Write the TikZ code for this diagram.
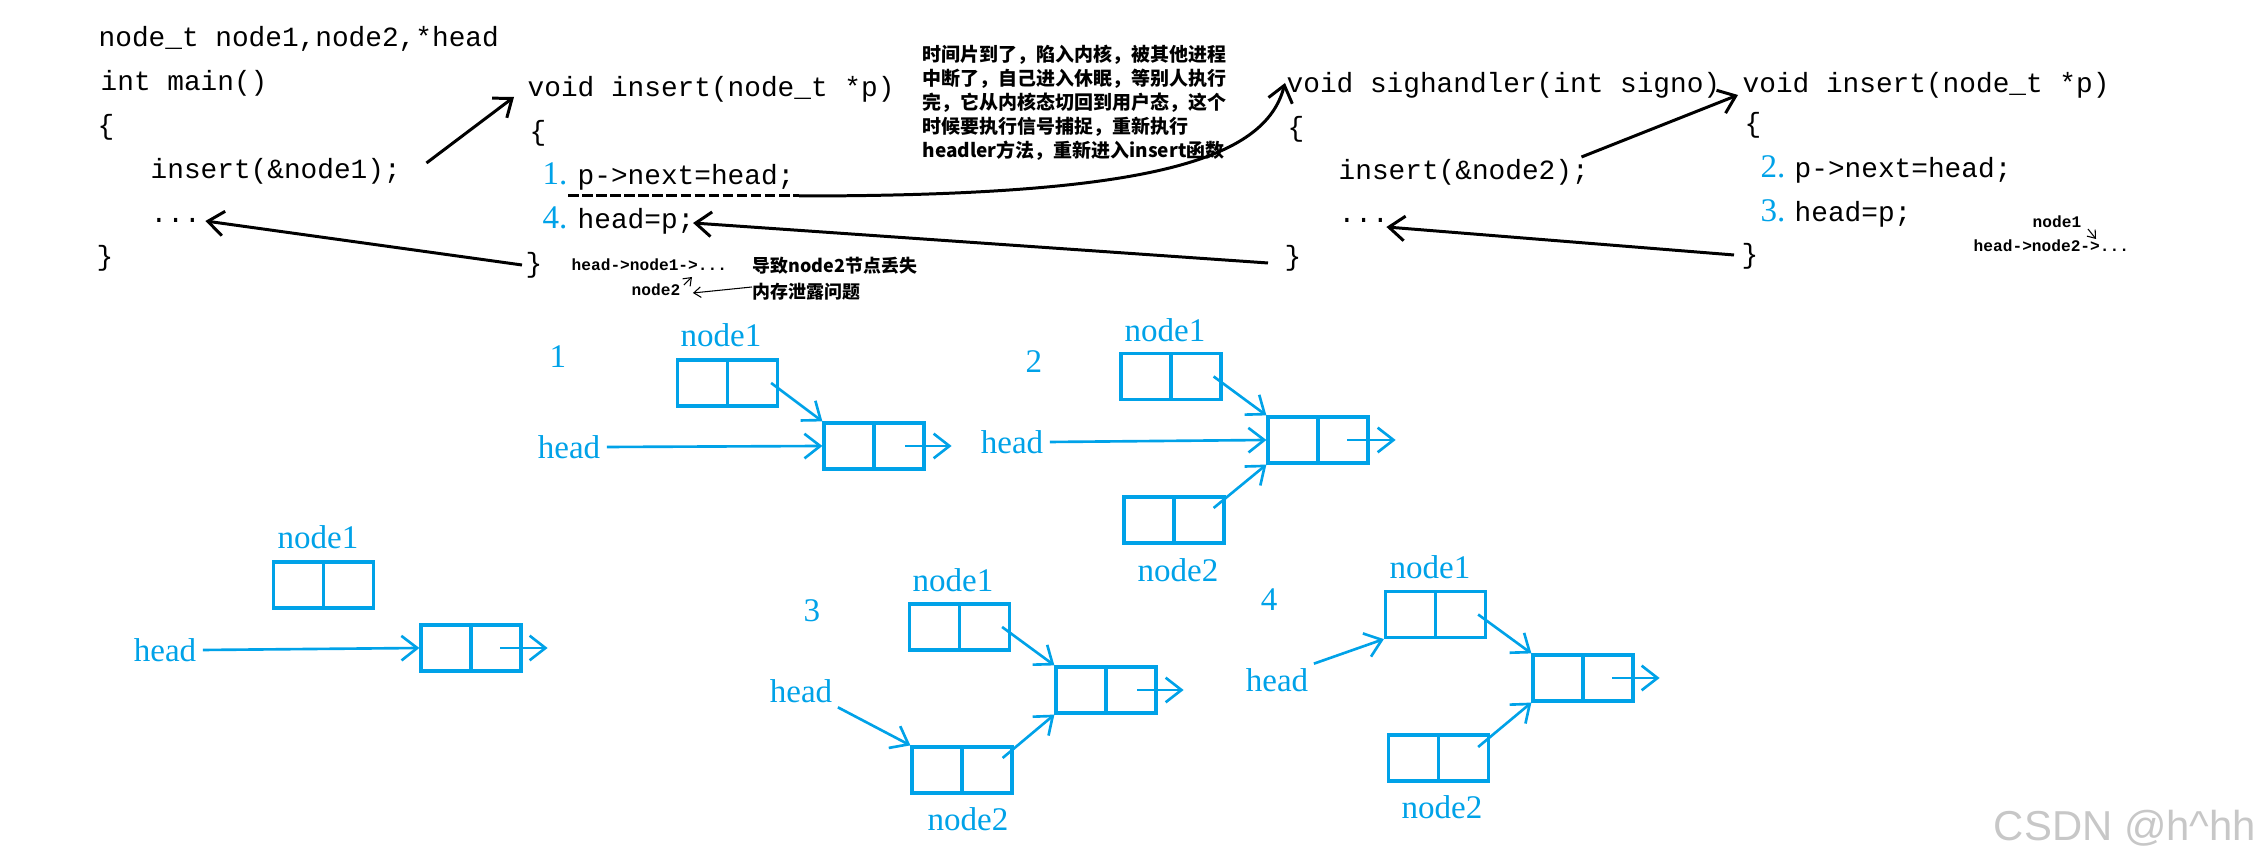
\documentclass[tikz,border=0pt]{standalone}
\usepackage{fontspec}
\setmainfont{Liberation Serif}
\newfontfamily\codefont{Liberation Mono}
\newfontfamily\cjkfont{Noto Sans CJK SC}
\newfontfamily\markfont{Liberation Sans}
\usetikzlibrary{arrows.meta}
\definecolor{lineblue}{HTML}{00A2E8}
\tikzset{
  code/.style={font=\codefont\fontsize{7.9}{9}\selectfont, inner sep=0pt, anchor=base west},
  lbl/.style={font=\fontsize{9.4}{11}\selectfont, text=lineblue, inner sep=0pt},
  note/.style={font=\codefont\bfseries\fontsize{4.6}{5.5}\selectfont, inner sep=0pt, anchor=base west},
  cn/.style={font=\cjkfont\bfseries\fontsize{5.1}{6}\selectfont, inner sep=0pt, anchor=base west},
  cellbox/.style={draw=lineblue, line width=0.9pt, minimum width=1cm, minimum height=0.46cm, inner sep=0pt,
    path picture={\draw[lineblue, line width=0.9pt] (path picture bounding box.north) -- (path picture bounding box.south);}},
  blk/.style={->, line width=0.85pt},
  bl/.style={->, draw=lineblue, line width=0.75pt},
  thinarrow/.style={-{Straight Barb[length=2pt,width=3pt]}, line width=0.3pt}
}

\begin{document}
\begin{tikzpicture}[x=0.01cm, y=-0.01cm, >={Straight Barb[length=4.5pt,width=7pt]}]
  \useasboundingbox (0,0) rectangle (2260,868);

  % main()
  \node[code] (decl) at (98,47) {node\_t node1,node2,*head};
  \node[code] (mainhdr) at (100,91) {int main()};
  \node[code] (mainlb) at (97,135) {\{};
  \node[code] (call1) at (150,179) {insert(\&node1);};
  \node[code] (dots1) at (150,223) {...};
  \node[code] (mainrb) at (96,266) {\}};

  % insert, first call
  \node[code] (ins1hdr) at (527,97) {void insert(node\_t *p)};
  \node[code] (ins1lb) at (529,141) {\{};
  \node[lbl, anchor=base west] (num1) at (542,185) {1.};
  \node[code] (next1) at (577,185) {p->next=head;};
  \node[lbl, anchor=base west] (num4) at (542,229) {4.};
  \node[code] (head4) at (577,229) {head=p;};
  \node[code] (ins1rb) at (525,273) {\}};

  % sighandler
  \node[code] (sighdr) at (1286,93) {void sighandler(int signo)};
  \node[code] (siglb) at (1287,137) {\{};
  \node[code] (call2) at (1338,180) {insert(\&node2);};
  \node[code] (dots2) at (1338,223) {...};
  \node[code] (sigrb) at (1284,266) {\}};

  % insert, second call
  \node[code] (ins2hdr) at (1742,93) {void insert(node\_t *p)};
  \node[code] (ins2lb) at (1744,133) {\{};
  \node[lbl, anchor=base west] (num2) at (1760,178) {2.};
  \node[code] (next2) at (1794,178) {p->next=head;};
  \node[lbl, anchor=base west] (num3) at (1760,222) {3.};
  \node[code] (head3) at (1794,222) {head=p;};
  \node[code] (ins2rb) at (1741,264) {\}};

  % notes
  \node[cn, font=\cjkfont\bfseries\fontsize{5.4}{6.83}\selectfont, anchor=north west, align=left] (story) at (922,44)
    {时间片到了，陷入内核，被其他进程\\中断了，自己进入休眠，等别人执行\\完，它从内核态切回到用户态，这个\\时候要执行信号捕捉，重新执行\\headler方法，重新进入insert函数};
  \node[note] (ann1) at (571,271) {head->node1->...};
  \node[cn] (ann2) at (752,273) {导致node2节点丢失};
  \node[note] (ann3) at (631,296) {node2};
  \node[cn] (ann4) at (752,299) {内存泄露问题};
  \node[note] (ann5) at (2032,228) {node1};
  \node[note] (ann6) at (1973,252) {head->node2->...};

  \draw[blk] ([shift={(25,-16)}]call1.base east) -- ([shift={(-13,0)}]ins1hdr.base west);
  \draw[blk] ([shift={(-3,-8)}]ins1rb.base west) -- ([shift={(4,-2)}]dots1.base east);
  \draw[line width=0.85pt, dash pattern=on 3pt off 1pt] ([shift={(-9,11)}]next1.base west) -- ([shift={(4,11)}]next1.base east) coordinate (dashend);
  \draw[blk] (dashend) .. controls (1150,196) and (1265,160) .. ([shift={(-1,-10)}]sighdr.base west);
  \draw[blk] ([shift={(-16,-3)}]sigrb.base west) -- ([shift={(-2,-6)}]head4.base east);
  \draw[blk] ([shift={(-8,-23)}]call2.base east) -- ([shift={(-4,2)}]ins2hdr.base west);
  \draw[blk] ([shift={(-7,-9)}]ins2rb.base west) -- ([shift={(-3,4)}]dots2.base east);

  \draw[thinarrow] ([shift={(3,-11)}]ann3.base east) -- ([shift={(121,6)}]ann1.base west);
  \draw[thinarrow] ([shift={(0,-12)}]ann4.base west) -- ([shift={(12,-3)}]ann3.base east);
  \draw[thinarrow] ([shift={(6,1)}]ann5.base east) -- ([shift={(123,-13)}]ann6.base west);

  % list before the call
  \node[cellbox] (d0n1) at (323.5,585) {};
  \node[cellbox] (d0nx) at (471,648) {};
  \node[lbl] (d0n1l) at (318,537) {node1};
  \node[lbl] (d0head) at (165,650) {head};
  \draw[bl] ([shift={(6,0)}]d0head.east) -- (d0nx.west);
  \draw[bl] ([shift={(29,0)}]d0nx.center) -- ([shift={(25,0)}]d0nx.east);

  % step 1
  \node[lbl] (d1num) at (558,357) {1};
  \node[cellbox] (d1n1) at (727.5,383) {};
  \node[cellbox] (d1nx) at (874,446) {};
  \node[lbl] (d1n1l) at (721,335) {node1};
  \node[lbl] (d1head) at (569,447) {head};
  \draw[bl] ([shift={(-8,0)}]d1n1.east) -- (d1nx.north west);
  \draw[bl] ([shift={(6,0)}]d1head.east) -- (d1nx.west);
  \draw[bl] ([shift={(31,0)}]d1nx.center) -- ([shift={(26,0)}]d1nx.east);

  % step 2
  \node[lbl] (d2num) at (1034,362) {2};
  \node[cellbox] (d2n1) at (1171,376.5) {};
  \node[cellbox] (d2nx) at (1318,440) {};
  \node[cellbox] (d2n2) at (1174,520) {};
  \node[lbl] (d2n1l) at (1165,330) {node1};
  \node[lbl] (d2n2l) at (1178,570) {node2};
  \node[lbl] (d2head) at (1012,442) {head};
  \draw[bl] ([shift={(-9,0)}]d2n1.east) -- (d2nx.north west);
  \draw[bl] ([shift={(-12,-12)}]d2n2.east) -- (d2nx.south west);
  \draw[bl] ([shift={(6,0)}]d2head.east) -- (d2nx.west);
  \draw[bl] ([shift={(29,0)}]d2nx.center) -- ([shift={(26,0)}]d2nx.east);

  % step 3
  \node[lbl] (d3num) at (812,611) {3};
  \node[cellbox] (d3n1) at (959.5,627) {};
  \node[cellbox] (d3nx) at (1106,690) {};
  \node[cellbox] (d3n2) at (962,770) {};
  \node[lbl] (d3n1l) at (953,580) {node1};
  \node[lbl] (d3n2l) at (968,819) {node2};
  \node[lbl] (d3head) at (801,691) {head};
  \draw[bl] ([shift={(-9,0)}]d3n1.east) -- (d3nx.north west);
  \draw[bl] ([shift={(5,4)}]d3head.south east) -- (d3n2.north west);
  \draw[bl] ([shift={(-11,-12)}]d3n2.east) -- (d3nx.south west);
  \draw[bl] ([shift={(31,0)}]d3nx.center) -- ([shift={(26,0)}]d3nx.east);

  % step 4
  \node[lbl] (d4num) at (1269,600) {4};
  \node[cellbox] (d4n1) at (1435.5,614.5) {};
  \node[cellbox] (d4nx) at (1583,678) {};
  \node[cellbox] (d4n2) at (1438.5,758) {};
  \node[lbl] (d4n1l) at (1430,567) {node1};
  \node[lbl] (d4n2l) at (1442,807) {node2};
  \node[lbl] (d4head) at (1277,680) {head};
  \draw[bl] ([shift={(5,-4)}]d4head.north east) -- (d4n1.south west);
  \draw[bl] ([shift={(-9,0)}]d4n1.east) -- (d4nx.north west);
  \draw[bl] ([shift={(-12,-11)}]d4n2.east) -- (d4nx.south west);
  \draw[bl] ([shift={(29,0)}]d4nx.center) -- ([shift={(25,0)}]d4nx.east);

  \node[font=\markfont\fontsize{11.9}{14}\selectfont, text=black!22, inner sep=0pt] (mark) at (2125,828) {CSDN @h\textasciicircum hh};
\end{tikzpicture}
\end{document}
